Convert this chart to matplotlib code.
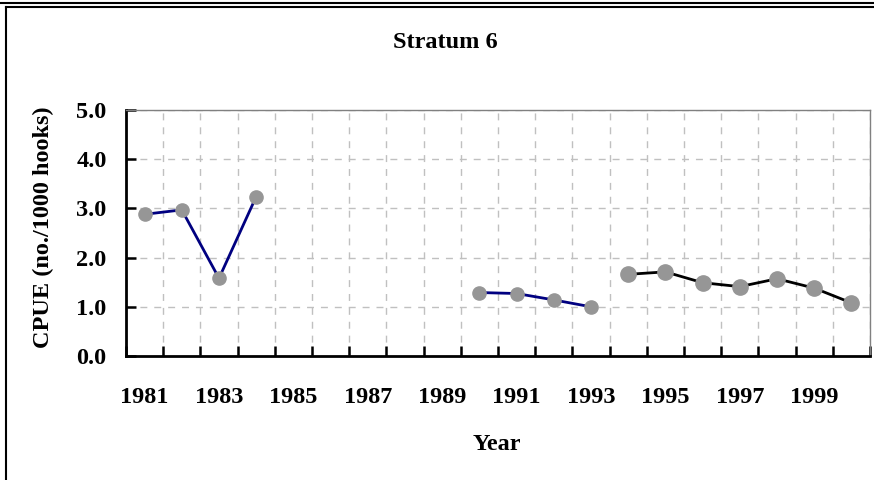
import matplotlib
matplotlib.use("Agg")
from matplotlib import pyplot as plt
from matplotlib.lines import Line2D
import numpy as np

years = [str(y) for y in range(1981, 2001)]
# navy series: 1981-1984 and 1990-1993, gap in between
cpue_early = [2.88, 2.97, 1.58, 3.24, None, None, None, None, None, 1.29,
              1.27, 1.14, 1.00, None, None, None, None, None, None, None]
# black series: 1994-2000
cpue_late = [None] * 13 + [1.66, 1.71, 1.49, 1.41, 1.57, 1.38, 1.08]
y_ticks = [0.0, 1.0, 2.0, 3.0, 4.0, 5.0]

W, H = 874, 480
plt.rcParams["font.family"] = ["Liberation Serif", "DejaVu Serif"]
plt.rcParams["font.weight"] = "bold"
fs = 17.5

fig = plt.figure(figsize=(W / 100, H / 100), dpi=100)
ax = fig.add_axes([126 / W, (H - 356) / H, (870 - 126) / W, (356 - 110) / H])

x = np.arange(len(years))
early = np.array([np.nan if v is None else v for v in cpue_early])
late = np.array([np.nan if v is None else v for v in cpue_late])

ax.plot(x, early, color="#000080", lw=2.0, marker="o", ms=9.5,
        mfc="#969696", mec="#969696", zorder=3, clip_on=False)
ax.plot(x, late, color="black", lw=2.0, marker="o", ms=11,
        mfc="#969696", mec="#969696", zorder=3, clip_on=False)

ax.set_xlim(-0.5, len(years) - 0.5)
ax.set_ylim(0, 5)

# ticks at category boundaries, labels at centres of every other category
ax.set_xticks(np.arange(len(years) + 1) - 0.5)
ax.set_xticklabels([])
ax.set_xticks(x[::2], minor=True)
ax.set_xticklabels(years[::2], minor=True, fontsize=fs, fontweight="bold")
ax.tick_params(axis="x", which="major", direction="in", length=7, width=1.8)
ax.tick_params(axis="x", which="minor", length=0, pad=22)

ax.set_yticks(y_ticks)
ax.set_yticklabels(["%.1f" % v for v in y_ticks], fontsize=fs, fontweight="bold")
ax.tick_params(axis="y", direction="in", length=7, width=1.8, pad=14)

ax.grid(True, which="major", color="#c0c0c0", lw=1.0, ls=(0, (5, 5)))
ax.set_axisbelow(True)

for s in ["top", "right"]:
    ax.spines[s].set_color("#808080")
    ax.spines[s].set_linewidth(1.0)
for s in ["left", "bottom"]:
    ax.spines[s].set_color("black")
    ax.spines[s].set_linewidth(2.0)

fig.text(445 / W, 1 - 42 / H, "Stratum 6", ha="center", va="center",
         fontsize=fs, fontweight="bold")
fig.text(497 / W, 1 - 445 / H, "Year", ha="center", va="center",
         fontsize=fs, fontweight="bold")
fig.text(43 / W, 1 - 227 / H, "CPUE (no./1000 hooks)", ha="center", va="center",
         rotation=90, fontsize=fs, fontweight="bold")

# chart frame borders
fig.add_artist(Line2D([0, 1], [1 - 2.5 / H, 1 - 2.5 / H], color="black", lw=1.5))
fig.add_artist(Line2D([6 / W, 1], [1 - 7 / H, 1 - 7 / H], color="black", lw=1.5))
fig.add_artist(Line2D([6 / W, 6 / W], [0, 1 - 7 / H], color="black", lw=1.5))

fig.savefig("out.png", dpi=100)
